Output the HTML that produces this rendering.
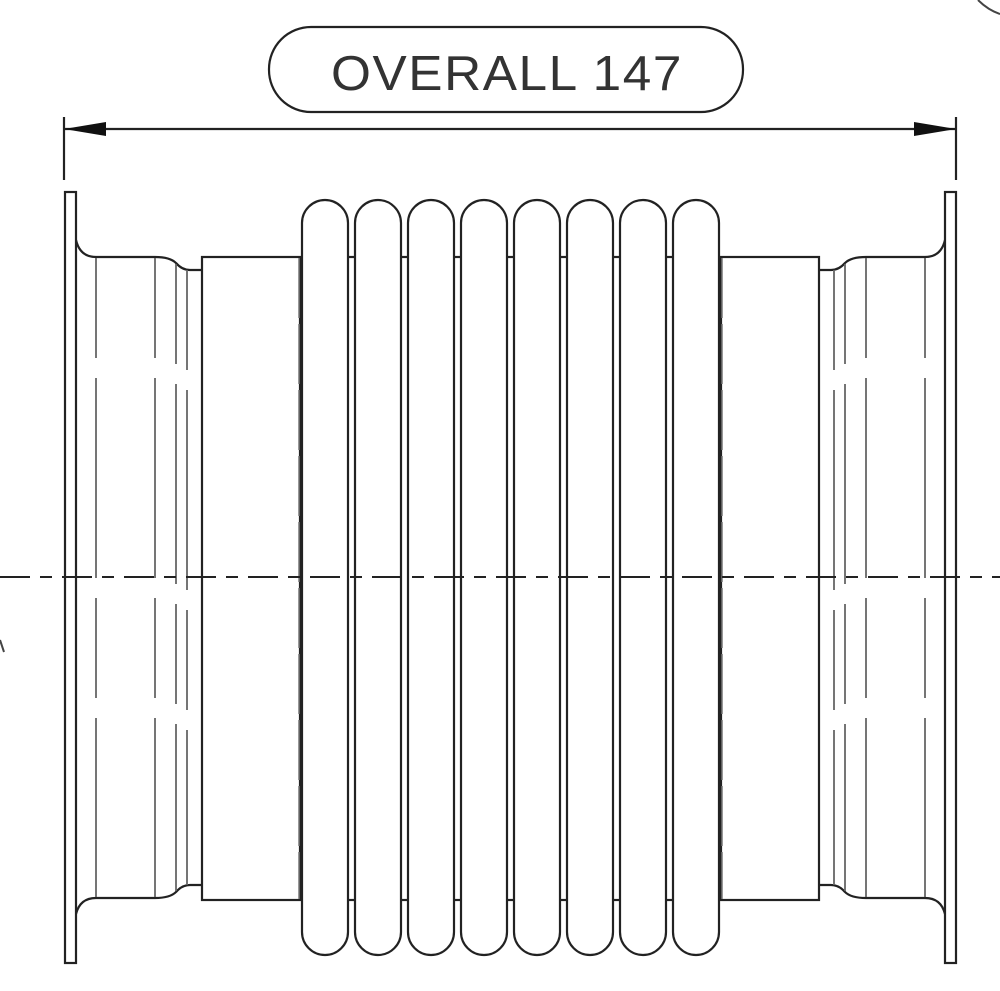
<!DOCTYPE html>
<html><head><meta charset="utf-8"><style>
html,body{margin:0;padding:0;background:#fff;}
svg{display:block;}
</style></head><body>
<svg width="1000" height="991" viewBox="0 0 1000 991" xmlns="http://www.w3.org/2000/svg">
<g fill="none" stroke="#222" stroke-width="2.2">
  <rect x="269" y="27" width="474" height="85" rx="42" ry="42"/>
  <line x1="64" y1="117" x2="64" y2="180"/>
  <line x1="956" y1="117" x2="956" y2="180"/>
  <line x1="64" y1="129" x2="956" y2="129"/>
</g>
<polygon points="64,129 106,122 106,136" fill="#111"/>
<polygon points="956,129 914,122 914,136" fill="#111"/>
<text x="507" y="90" text-anchor="middle" font-family="'Liberation Sans', sans-serif" font-size="49" fill="#333" letter-spacing="1.5" textLength="352" lengthAdjust="spacingAndGlyphs">OVERALL 147</text>

<g id="half" fill="none" stroke="#222" stroke-width="2.2">
  <rect x="65" y="192" width="11" height="771" fill="#fff"/>
  <path d="M76,240 Q80,257 96,257 L155,257 Q170,257 176,263 Q182,270 190,270 L202,270"/>
  <path d="M76,914 Q80,898 96,898 L155,898 Q170,898 176,892 Q182,885 190,885 L202,885"/>
  <rect x="202" y="257" width="98" height="643"/>
  <g stroke="#666" stroke-width="1.8" stroke-dasharray="100 20 200 20">
    <line x1="96" y1="258" x2="96" y2="897"/>
    <line x1="155" y1="258" x2="155" y2="897"/>
    <line x1="176" y1="264" x2="176" y2="891"/>
    <line x1="187" y1="270" x2="187" y2="885"/>
  </g>
  <line x1="299" y1="258" x2="299" y2="899" stroke="#777" stroke-width="1.5" stroke-dasharray="60 6"/>
</g>
<use href="#half" transform="translate(1021,0) scale(-1,1)"/>

<g fill="#fff" stroke="#222" stroke-width="2.2">
  <rect x="302" y="200" width="46" height="755" rx="23" ry="23"/>
  <rect x="355" y="200" width="46" height="755" rx="23" ry="23"/>
  <rect x="408" y="200" width="46" height="755" rx="23" ry="23"/>
  <rect x="461" y="200" width="46" height="755" rx="23" ry="23"/>
  <rect x="514" y="200" width="46" height="755" rx="23" ry="23"/>
  <rect x="567" y="200" width="46" height="755" rx="23" ry="23"/>
  <rect x="620" y="200" width="46" height="755" rx="23" ry="23"/>
  <rect x="673" y="200" width="46" height="755" rx="23" ry="23"/>
</g>
<g stroke="#222" stroke-width="2.2">
  <line x1="348" y1="257" x2="355" y2="257"/><line x1="348" y1="900" x2="355" y2="900"/>
  <line x1="401" y1="257" x2="408" y2="257"/><line x1="401" y1="900" x2="408" y2="900"/>
  <line x1="454" y1="257" x2="461" y2="257"/><line x1="454" y1="900" x2="461" y2="900"/>
  <line x1="507" y1="257" x2="514" y2="257"/><line x1="507" y1="900" x2="514" y2="900"/>
  <line x1="560" y1="257" x2="567" y2="257"/><line x1="560" y1="900" x2="567" y2="900"/>
  <line x1="613" y1="257" x2="620" y2="257"/><line x1="613" y1="900" x2="620" y2="900"/>
  <line x1="666" y1="257" x2="673" y2="257"/><line x1="666" y1="900" x2="673" y2="900"/>
</g>

<line x1="0" y1="577" x2="1000" y2="577" stroke="#222" stroke-width="2" stroke-dasharray="30 10 12 10"/>
<path d="M978,0 Q988,10 1000,14" fill="none" stroke="#444" stroke-width="2"/>
<path d="M0,640 L4,652" fill="none" stroke="#444" stroke-width="2"/>
</svg>
</body></html>
